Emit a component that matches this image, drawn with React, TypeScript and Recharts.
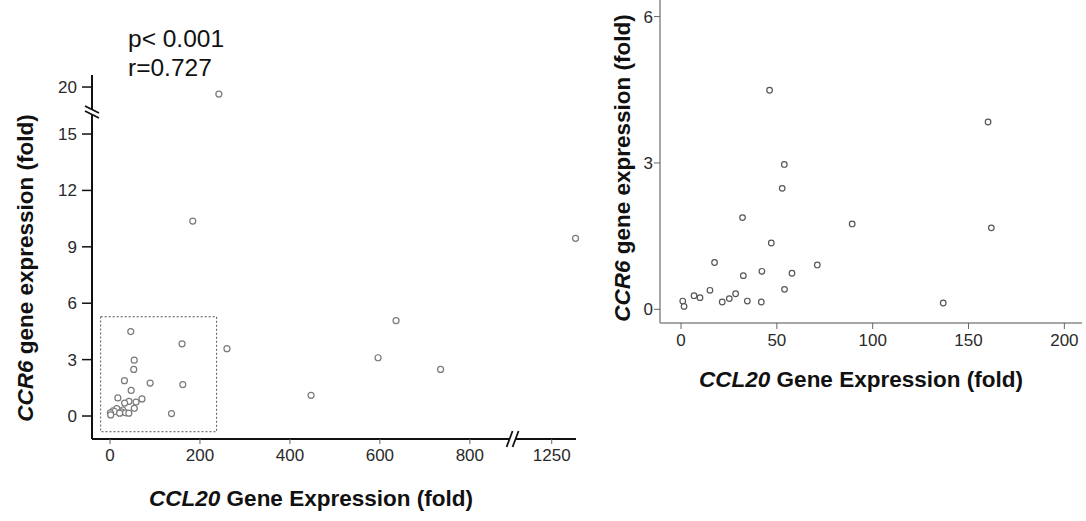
import React from "react"
import {
  ScatterChart,
  Scatter,
  XAxis,
  YAxis,
  ReferenceArea,
  ReferenceDot,
} from "recharts"

// CCL20 vs CCR6 fold expression
const ccl20 = [46.2, 160.2, 53.9, 52.8, 32.1, 89.3, 161.9, 47.1, 17.5, 71.1, 42.2, 57.9, 32.5, 15.1, 54.0, 28.5, 6.8, 9.9, 25.2, 0.9, 21.5, 34.6, 41.9, 136.8, 1.6]
const ccr6 = [4.49, 3.84, 2.97, 2.48, 1.88, 1.75, 1.67, 1.36, 0.96, 0.91, 0.78, 0.74, 0.69, 0.39, 0.41, 0.32, 0.28, 0.24, 0.22, 0.17, 0.15, 0.17, 0.15, 0.13, 0.06]

// samples only visible in the full-range panel
const ccl20High = [184, 242, 260, 447, 596, 636, 735, 1303]
const ccr6High = [10.37, 19.5, 3.58, 1.1, 3.1, 5.07, 2.48, 9.45]

const leftXTicks = [0, 200, 400, 600, 800, 1250]
const leftYTicks = [0, 3, 6, 9, 12, 15, 20]
const rightXTicks = [0, 50, 100, 150, 200]
const rightYTicks = [0, 3, 6]

// axis breaks: x jumps after ~900, y jumps after ~16
const breakX = (v: number) => (v > 900 ? v - 268 : v)
const breakY = (v: number) => (v > 18 ? 17.5 - (20 - v) * 0.75 : v)

const FONT = "'Liberation Sans', Arial, sans-serif"

const leftData = [...ccl20, ...ccl20High].map((x, i) => {
  const y = i < ccl20.length ? ccr6[i] : ccr6High[i - ccl20.length]
  return { x: breakX(x), y: breakY(y) }
})
const rightData = ccl20.map((x, i) => ({ x, y: ccr6[i] }))

const xLabel = new Map(leftXTicks.map((t) => [breakX(t), String(t)]))
const yLabel = new Map(leftYTicks.map((t) => [breakY(t), String(t)]))

function Dot(props: any, r: number, stroke: string) {
  return <circle cx={props.cx} cy={props.cy} r={r} fill="#fff" stroke={stroke} strokeWidth={1.2} />
}

function YBreak(props: any) {
  const { cx, cy } = props
  return (
    <g>
      <rect x={cx - 5} y={cy - 3} width={10} height={6} fill="#fff" />
      <line x1={cx - 7} y1={cy - 6} x2={cx + 7} y2={cy + 1} stroke="#111" strokeWidth={1.8} />
      <line x1={cx - 7} y1={cy - 1} x2={cx + 7} y2={cy + 6} stroke="#111" strokeWidth={1.8} />
    </g>
  )
}

function XBreak(props: any) {
  const { cx, cy } = props
  return (
    <g>
      <rect x={cx - 3} y={cy - 5} width={6} height={10} fill="#fff" />
      <line x1={cx - 6} y1={cy + 8} x2={cx} y2={cy - 8} stroke="#111" strokeWidth={1.8} />
      <line x1={cx} y1={cy + 8} x2={cx + 6} y2={cy - 8} stroke="#111" strokeWidth={1.8} />
    </g>
  )
}

const tickStyle = { fill: "#2a2a2a", fontSize: 17, fontFamily: FONT }

export default function App() {
  return (
    <div style={{ position: "absolute", left: 0, top: 0, width: 1086, height: 521, background: "#fff" }}>
      <div style={{ position: "absolute", left: 0, top: 0 }}>
        <ScatterChart width={590} height={521} margin={{ top: 75, right: 14, bottom: 52, left: 52 }}>
          <XAxis
            type="number"
            dataKey="x"
            domain={[-40, 1036]}
            ticks={leftXTicks.map(breakX)}
            interval={0}
            tickFormatter={(v) => xLabel.get(v) ?? ""}
            tick={tickStyle}
            axisLine={{ stroke: "#111", strokeWidth: 2 }}
            tickLine={{ stroke: "#666" }}
            tickSize={5}
            tickMargin={5}
            height={30}
          />
          <YAxis
            type="number"
            dataKey="y"
            domain={[-1.223, 18.14]}
            ticks={leftYTicks.map(breakY)}
            interval={0}
            tickFormatter={(v) => yLabel.get(v) ?? ""}
            tick={tickStyle}
            axisLine={{ stroke: "#111", strokeWidth: 2 }}
            tickLine={{ stroke: "#111", strokeWidth: 1.5 }}
            tickSize={10}
            tickMargin={5}
            width={40}
          />
          <ReferenceArea
            x1={-20.7}
            x2={237}
            y1={-0.835}
            y2={5.28}
            fill="none"
            stroke="#555"
            strokeDasharray="2 2"
            ifOverflow="visible"
          />
          <Scatter data={leftData} isAnimationActive={false} shape={(p: any) => Dot(p, 3, "#7a7a7a")} />
          <ReferenceDot x={-40} y={16.17} r={0} ifOverflow="visible" shape={(p: any) => <YBreak {...p} />} />
          <ReferenceDot x={895} y={-1.223} r={0} ifOverflow="visible" shape={(p: any) => <XBreak {...p} />} />
        </ScatterChart>
      </div>

      <div style={{ position: "absolute", left: 580, top: 0 }}>
        <ScatterChart width={506} height={521} margin={{ top: 0, right: 4, bottom: 168, left: 50 }}>
          <XAxis
            type="number"
            dataKey="x"
            domain={[-10.96, 209.2]}
            ticks={rightXTicks}
            interval={0}
            tick={tickStyle}
            axisLine={{ stroke: "#888", strokeWidth: 1.5 }}
            tickLine={{ stroke: "#666" }}
            tickSize={6}
            tickMargin={5}
            height={30}
          />
          <YAxis
            type="number"
            dataKey="y"
            domain={[-0.28, 6.34]}
            ticks={rightYTicks}
            interval={0}
            tick={tickStyle}
            axisLine={{ stroke: "#888", strokeWidth: 1.5 }}
            tickLine={{ stroke: "#666" }}
            tickSize={6}
            tickMargin={1}
            width={30}
          />
          <Scatter data={rightData} isAnimationActive={false} shape={(p: any) => Dot(p, 2.8, "#555")} />
        </ScatterChart>
      </div>

      <svg width={1086} height={521} style={{ position: "absolute", left: 0, top: 0, pointerEvents: "none" }}>
        <g fontFamily={FONT} fill="#111">
          <text x={128} y={47} fontSize={24.5}>p&lt; 0.001</text>
          <text x={128} y={76} fontSize={24.5}>r=0.727</text>
          <g fontWeight="bold" fontSize={22.5}>
            <text transform="translate(33,268) rotate(-90)" textAnchor="middle">
              <tspan fontStyle="italic">CCR6</tspan> gene expression (fold)
            </text>
            <text x={311} y={506} textAnchor="middle">
              <tspan fontStyle="italic">CCL20</tspan> Gene Expression (fold)
            </text>
            <text transform="translate(630,168) rotate(-90)" textAnchor="middle">
              <tspan fontStyle="italic">CCR6</tspan> gene expression (fold)
            </text>
            <text x={861} y={387} textAnchor="middle">
              <tspan fontStyle="italic">CCL20</tspan> Gene Expression (fold)
            </text>
          </g>
        </g>
      </svg>
    </div>
  )
}
